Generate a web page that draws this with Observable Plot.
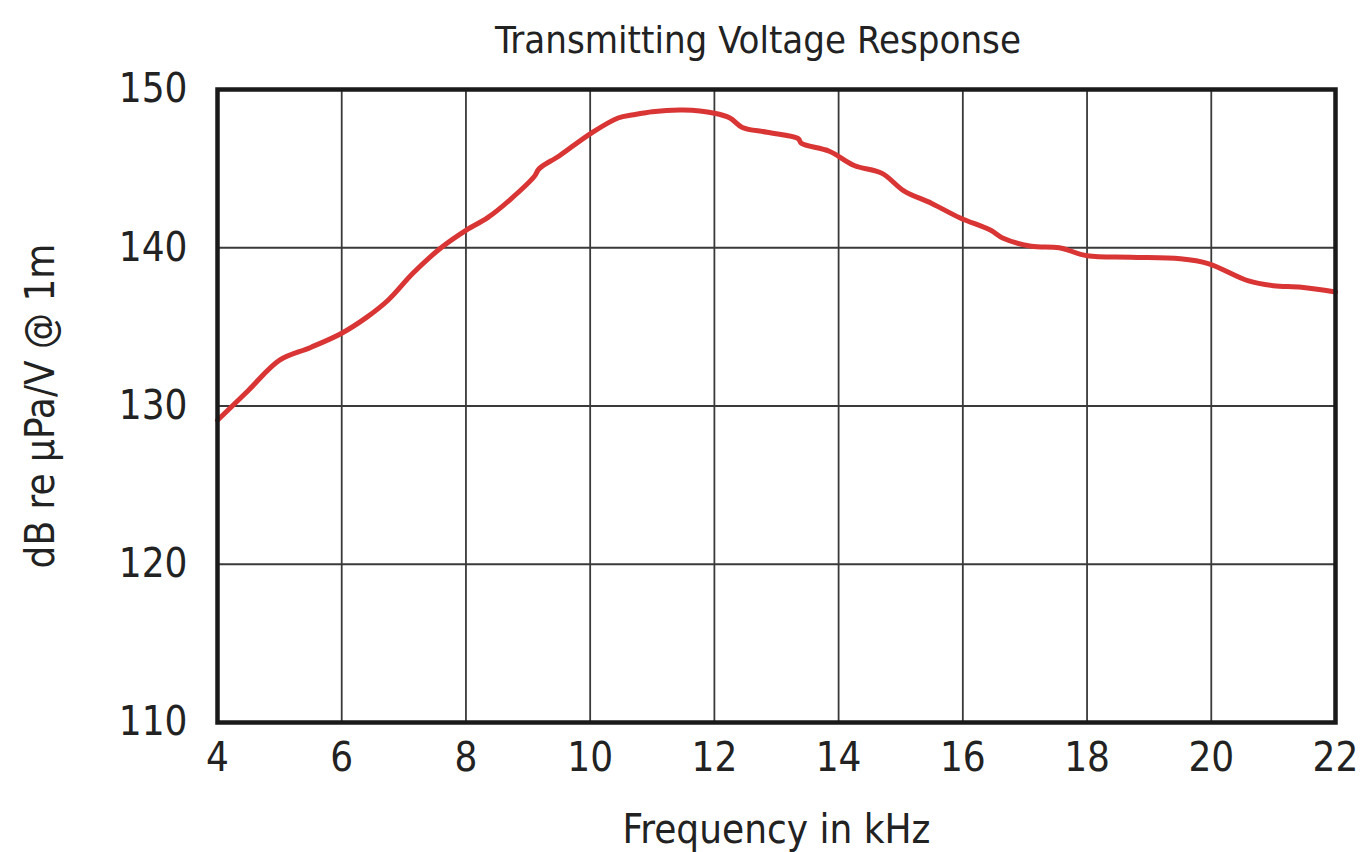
<!DOCTYPE html>
<html>
<head>
<meta charset="utf-8">
<script src="https://cdn.jsdelivr.net/npm/d3@7"></script>
<script src="https://cdn.jsdelivr.net/npm/@observablehq/plot@0.6"></script>
<style>
  html, body { margin: 0; padding: 0; background: #fff; }
  #wrap { position: relative; width: 1365px; height: 852px; font-family: "Liberation Sans Narrow", "DejaVu Sans Condensed", "Liberation Sans", sans-serif; color: #222; }
  #title { position: absolute; left: 758px; top: 18px; transform: translateX(-50%); font-size: 38px; white-space: nowrap; z-index: 2; }
  #chart { position: absolute; left: 0; top: 0; }
</style>
</head>
<body>
<div id="wrap">
  <div id="chart"></div>
  <div id="title">Transmitting Voltage Response</div>
</div>
<script>
const title = "Transmitting Voltage Response";
const xLabel = "Frequency in kHz";
const yLabel = "dB re µPa/V @ 1m";
const xTicks = [4, 6, 8, 10, 12, 14, 16, 18, 20, 22];
const yTicks = [110, 120, 130, 140, 150];

const freqKHz = [4.0, 4.5, 5.0, 5.5, 6.0, 6.4, 6.75, 7.15, 7.6, 8.0, 8.35, 8.7, 9.1, 9.18, 9.5, 10.0, 10.45, 10.7, 11.0, 11.5, 12.0, 12.25, 12.45, 12.85, 13.35, 13.4, 13.85, 14.25, 14.7, 15.05, 15.5, 15.95, 16.45, 16.65, 17.1, 17.55, 18.0, 18.7, 19.5, 19.95, 20.6, 21.0, 21.45, 22.0];
const tvrDb = [129.1, 131.0, 132.9, 133.7, 134.6, 135.6, 136.7, 138.4, 140.0, 141.1, 141.9, 143.0, 144.5, 145.0, 145.8, 147.2, 148.2, 148.4, 148.6, 148.7, 148.5, 148.2, 147.6, 147.3, 146.9, 146.6, 146.1, 145.2, 144.7, 143.6, 142.8, 141.9, 141.1, 140.6, 140.1, 140.0, 139.5, 139.4, 139.3, 139.0, 137.9, 137.6, 137.5, 137.2];

const data = freqKHz.map((f, i) => ({f, v: tvrDb[i]}));

const chart = Plot.plot({
  width: 1365,
  height: 852,
  marginLeft: 217,
  marginRight: 30,
  marginTop: 89,
  marginBottom: 130,
  style: {fontFamily: '"Liberation Sans Narrow", "DejaVu Sans Condensed", "Liberation Sans", sans-serif', fontSize: "40px", color: "#222", background: "#fff"},
  x: {domain: [4, 22], ticks: xTicks, label: null},
  y: {domain: [110, 150], ticks: yTicks, label: null},
  marks: [
    Plot.gridX(xTicks, {stroke: "#3a3a3a", strokeOpacity: 1, strokeWidth: 1.8}),
    Plot.gridY(yTicks, {stroke: "#3a3a3a", strokeOpacity: 1, strokeWidth: 1.8}),
    Plot.axisX(xTicks, {tickSize: 0, tickPadding: 20, fontSize: 40, label: xLabel, labelAnchor: "center", labelArrow: "none", labelOffset: 120}),
    Plot.axisY(yTicks, {tickSize: 0, tickPadding: 30, fontSize: 40, label: yLabel, labelAnchor: "center", labelArrow: "none", labelOffset: 192}),
    Plot.line(data, {x: "f", y: "v", stroke: "#d93535", strokeWidth: 5, curve: "catmull-rom"}),
    Plot.frame({stroke: "#1a1a1a", strokeWidth: 4.5})
  ]
});
document.getElementById("chart").appendChild(chart);
</script>
</body>
</html>
